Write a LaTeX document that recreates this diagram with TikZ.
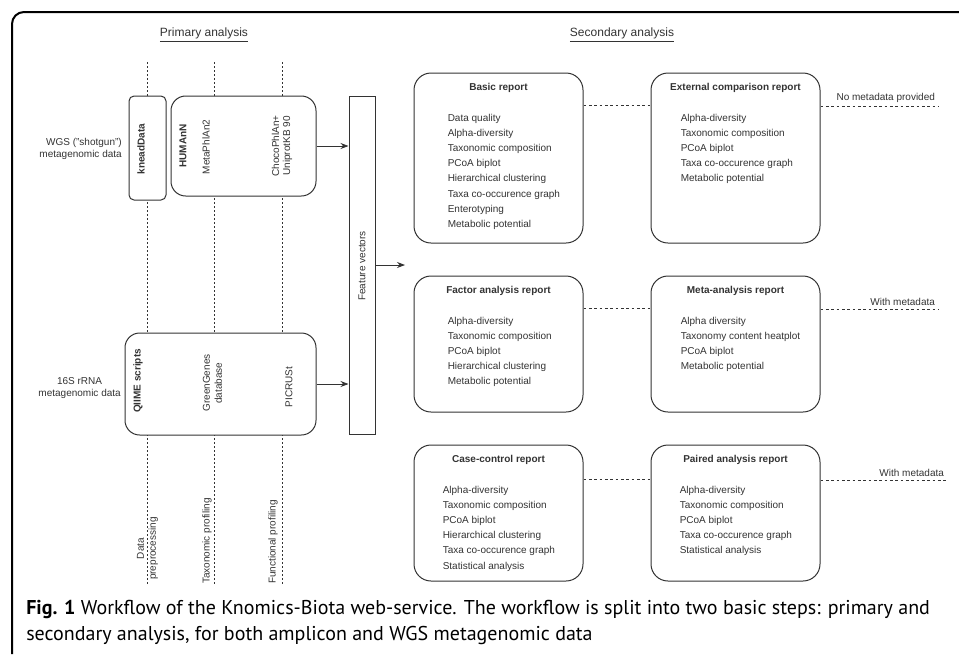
\documentclass[tikz,border=0pt]{standalone}
\usepackage{fontspec}
\setmainfont{Liberation Sans}
\newfontfamily\capfont{PT Sans}
\usepackage{xcolor}
\usepackage{tikz}
\usetikzlibrary{positioning, arrows.meta}
\definecolor{ink}{HTML}{333333}

\begin{document}
\begin{tikzpicture}[x=0.75pt, y=-0.75pt, >={Stealth[length=6pt, width=4.5pt]},
        font=\fontsize{7.5}{9}\selectfont, text=ink]
    \tikzstyle{tool} = [draw=ink, line width=0.75pt, fill=white, inner sep=0pt, rounded corners=11pt]
    \tikzstyle{report} = [draw=ink, line width=0.75pt, fill=white, inner sep=0pt, rounded corners=12.75pt, minimum width=126.75pt]
    \tikzstyle{rtitle} = [inner sep=0pt, font=\fontsize{7.5}{9}\selectfont\bfseries]
    \tikzstyle{item} = [inner sep=0pt]
    \tikzstyle{vert} = [rotate=90, inner sep=0pt, align=center]
    \tikzstyle{guide} = [draw=ink, line width=0.6pt, dash pattern=on 1.5pt off 1.5pt]
    \tikzstyle{link} = [draw=ink, line width=0.6pt, dash pattern=on 2pt off 2pt]
    \useasboundingbox (0,0) rectangle (959,654);

    % frame
    \draw [line width=1.5pt, rounded corners=9pt] (12,654) -- (12,12) -- (959,12);

    % primary analysis
    \node [font=\fontsize{9}{11}\selectfont] (prim) at (204,35) {\underline{Primary analysis}};
    \node [font=\fontsize{9}{11}\selectfont] (sec) at (622,35) {\underline{Secondary analysis}};

    \foreach \x/\n in {147/pre, 214/tax, 282/fun}
        \draw [guide] (\x,62) coordinate (\n-top) -- (\x,586) coordinate (\n-bot);

    \node [tool, rounded corners=3.75pt, minimum width=27.75pt, minimum height=78pt] (knead) at (147.5,148) {};
    \node [tool, minimum width=108.75pt, minimum height=75pt] (humann) at (243.5,146) {};
    \node [tool, minimum width=143.25pt, minimum height=76.5pt] (qiime) at (220.5,384) {};
    \node [draw=ink, line width=0.75pt, fill=white, minimum width=19.5pt, minimum height=253.5pt] (feat) at (362,265) {};

    \node [vert, font=\fontsize{7.5}{9}\selectfont\bfseries] (kneadlbl) at (141,149) {kneadData};
    \node [vert, font=\fontsize{7.5}{9}\selectfont\bfseries] (humannlbl) at (183,146) {HUMAnN};
    \node [vert] (metaphlan) at (206,147) {MetaPhlAn2};
    \node [vert, font=\fontsize{7.5}{8.3}\selectfont] (choco) at (282,146) {ChocoPhlAn+\\UniprotKB 90};
    \node [vert, font=\fontsize{7.5}{9}\selectfont\bfseries] (qiimelbl) at (138,381) {QIIME scripts};
    \node [vert] (greengenes) at (212.5,383) {GreenGenes\\database};
    \node [vert] (picrust) at (289,387) {PICRUSt};
    \node [vert] (featlbl) at (362,266) {Feature vectors};

    \node [vert] (prelbl) at (147.5,548.5) {Data\\preprocessing};
    \node [vert] (taxlbl) at (207,541) {Taxonomic profiling};
    \node [vert] (funlbl) at (273,542) {Functional profiling};

    \node [align=right, anchor=east, inner sep=0pt] (wgs) at (122,149) {WGS ("shotgun")\\metagenomic data};
    \node [align=center, anchor=east, inner sep=0pt] (amp) at (121,388) {16S rRNA\\metagenomic data};

    \draw [->, ink, line width=0.6pt] (humann.east) -- (humann.east -| feat.west);
    \draw [->, ink, line width=0.6pt] (qiime.east) -- (qiime.east -| feat.west);
    \coordinate (entry) at (405,265);
    \draw [->, ink, line width=0.6pt] (feat.east) -- (entry);

    % secondary analysis
    \node [report, minimum height=127.5pt] (basic) at (498.5,158) {};
    \node [report, minimum height=127.5pt] (ext) at (735.5,158) {};
    \node [report, minimum height=102pt] (factor) at (498.5,344) {};
    \node [report, minimum height=102pt] (meta) at (735.5,344) {};
    \node [report, minimum height=102pt] (case) at (498.5,513) {};
    \node [report, minimum height=102pt] (paired) at (735.5,513) {};

    \node [rtitle, below = 8pt of basic.north] (basic-t) {Basic report};
    \node [rtitle, below = 8pt of ext.north] (ext-t) {External comparison report};
    \node [rtitle, below = 8pt of factor.north] (factor-t) {Factor analysis report};
    \node [rtitle, below = 8pt of meta.north] (meta-t) {Meta-analysis report};
    \node [rtitle, below = 8pt of case.north] (case-t) {Case-control report};
    \node [rtitle, below = 8pt of paired.north] (paired-t) {Paired analysis report};

    \foreach \t [count=\i] in {Data quality, Alpha-diversity, Taxonomic composition, PCoA biplot,
            Hierarchical clustering, Taxa co-occurence graph, Enterotyping, Metabolic potential}
        \path (basic.north west) ++(34, 33.4+15.2*\i) node [item, anchor=base west] (basic-\i) {\t};
    \foreach \t [count=\i] in {Alpha-diversity, Taxonomic composition, PCoA biplot,
            Taxa co-occurence graph, Metabolic potential}
        \path (ext.north west) ++(30, 33.4+15.2*\i) node [item, anchor=base west] (ext-\i) {\t};
    \foreach \t [count=\i] in {Alpha-diversity, Taxonomic composition, PCoA biplot,
            Hierarchical clustering, Metabolic potential}
        \path (factor.north west) ++(34, 33.4+15.2*\i) node [item, anchor=base west] (factor-\i) {\t};
    \foreach \t [count=\i] in {Alpha diversity, Taxonomy content heatplot, PCoA biplot, Metabolic potential}
        \path (meta.north west) ++(30, 33.4+15.2*\i) node [item, anchor=base west] (meta-\i) {\t};
    \foreach \t [count=\i] in {Alpha-diversity, Taxonomic composition, PCoA biplot,
            Hierarchical clustering, Taxa co-occurence graph, Statistical analysis}
        \path (case.north west) ++(29, 33.4+15.2*\i) node [item, anchor=base west] (case-\i) {\t};
    \foreach \t [count=\i] in {Alpha-diversity, Taxonomic composition, PCoA biplot,
            Taxa co-occurence graph, Statistical analysis}
        \path (paired.north west) ++(29, 33.4+15.2*\i) node [item, anchor=base west] (paired-\i) {\t};

    \draw [link] ([yshift=-25pt]basic.north east) -- ([yshift=-25pt]ext.north west);
    \draw [link] ([yshift=-25pt]factor.north east) -- ([yshift=-25pt]meta.north west);
    \draw [link] ([yshift=-26pt]case.north east) -- ([yshift=-26pt]paired.north west);

    \coordinate (nometa) at (938,106);
    \coordinate (withmeta1) at (938,309);
    \coordinate (withmeta2) at (947,480);
    \draw [link] (ext.east |- nometa) -- (nometa) node [above left, inner sep=2pt] (nometa-l) {No metadata provided};
    \draw [link] (meta.east |- withmeta1) -- (withmeta1) node [above left, inner sep=2pt] (withmeta1-l) {With metadata};
    \draw [link] (paired.east |- withmeta2) -- (withmeta2) node [above left, inner sep=2pt] (withmeta2-l) {With metadata};

    % caption
    \node [anchor=base west, align=left, inner sep=0pt, text=black, font=\capfont\fontsize{15}{19.5}\selectfont] (caption) at (26,640)
        {\textbf{Fig. 1} Workflow of the Knomics-Biota web-service. The workflow is split into two basic steps: primary and\\
         secondary analysis, for both amplicon and WGS metagenomic data};
\end{tikzpicture}
\end{document}
